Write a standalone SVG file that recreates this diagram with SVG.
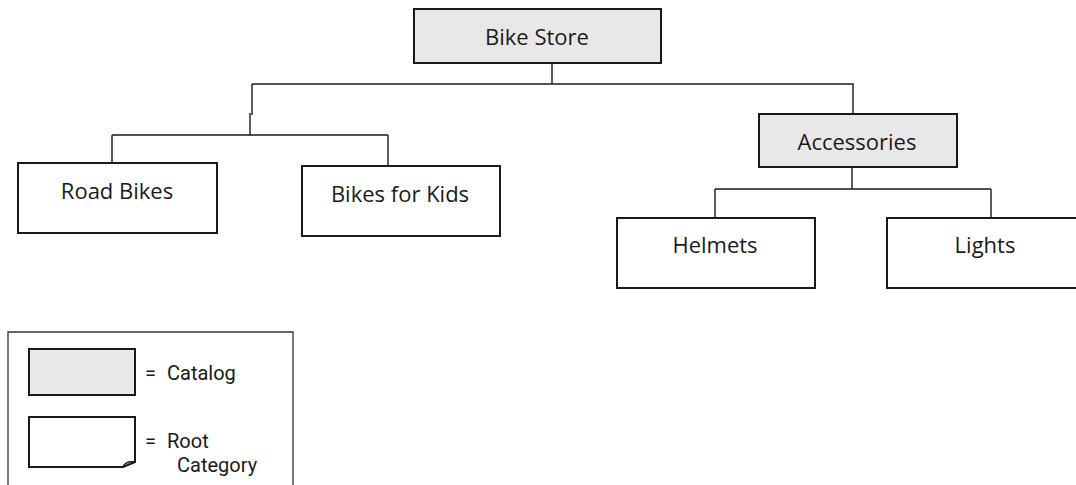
<svg xmlns="http://www.w3.org/2000/svg" width="1076" height="485" viewBox="0 0 1076 485">
<style>
.cat{fill:#e8e8e8;stroke:#1a1a1a;stroke-width:2}
.root{fill:#ffffff;stroke:#1a1a1a;stroke-width:2}
.lbl{font-family:"Open Sans","Noto Sans",sans-serif;font-size:22px;fill:#1a1a1a;text-anchor:middle}
.leg{font-family:Roboto,"Liberation Sans",sans-serif;font-size:20px;fill:#1a1a1a}
.conn{fill:none;stroke:#1a1a1a;stroke-width:1.4}
</style>
<rect width="1076" height="485" fill="#ffffff"/>
<g id="connectors">
<path class="conn" d="M552,59 V84 M252,84 H853 V114"/>
<path class="conn" d="M252,84 V115 M250,113 V135 M112,135 H388 M112,135 V163 M388,135 V166"/>
<path class="conn" d="M852,167 V189 M715,189 H991 M715,189 V218 M991,189 V218"/>
</g>
<g id="bike-store">
<rect class="cat" x="414" y="9" width="247" height="54"/>
<text class="lbl" x="537" y="45">Bike Store</text>
</g>
<g id="road-bikes">
<rect class="root" x="18" y="163" width="199" height="70"/>
<text class="lbl" x="117" y="199">Road Bikes</text>
</g>
<g id="bikes-for-kids">
<rect class="root" x="302" y="166" width="198" height="70"/>
<text class="lbl" x="400" y="202">Bikes for Kids</text>
</g>
<g id="accessories">
<rect class="cat" x="759" y="114" width="198" height="53"/>
<text class="lbl" x="857" y="150">Accessories</text>
</g>
<g id="helmets">
<rect class="root" x="617" y="218" width="198" height="70"/>
<text class="lbl" x="715" y="253">Helmets</text>
</g>
<g id="lights">
<rect class="root" x="887" y="218" width="200" height="70"/>
<text class="lbl" x="985" y="253">Lights</text>
</g>
<g id="legend">
<path d="M8,485 V332 H293 V485" fill="none" stroke="#333" stroke-width="1.3"/>
<rect class="cat" x="29" y="349" width="106" height="46"/>
<text class="leg" x="145" y="380">=</text>
<text class="leg" x="167" y="380">Catalog</text>
<path class="root" d="M29,417 H135 V462 L123,467 H29 Z"/>
<path d="M123,467 Q125,461 135,462" fill="none" stroke="#1a1a1a" stroke-width="1.5"/>
<text class="leg" x="145" y="448">=</text>
<text class="leg" x="167" y="448">Root</text>
<text class="leg" x="177" y="472">Category</text>
</g>
</svg>
